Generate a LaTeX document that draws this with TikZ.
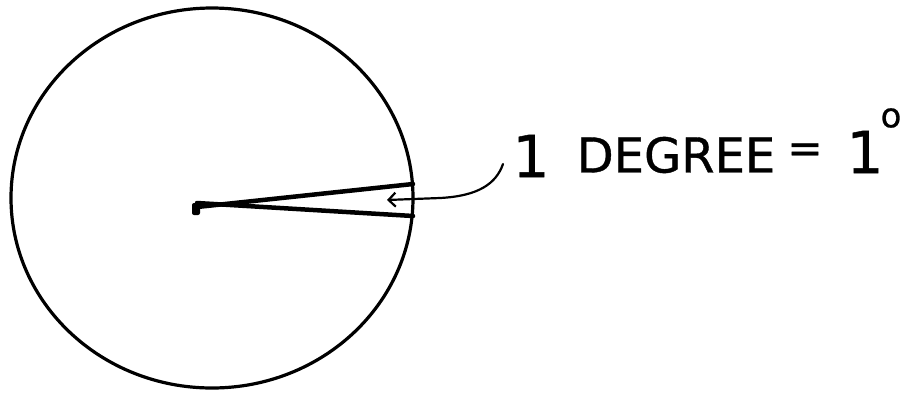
\documentclass[tikz,border=0pt]{standalone}
\usepackage{fontspec}
\setmainfont{DejaVu Sans}
\newfontfamily\hand[FakeBold=0.8]{DejaVu Sans}
\usetikzlibrary{arrows.meta}
\begin{document}
\begin{tikzpicture}[x=1pt,y=-1pt,
  ink/.style={draw=black, line cap=round, line join=round},
  lbl/.style={inner sep=0pt, text=black},
  big/.style={lbl, font=\hand\fontsize{58}{60}\selectfont},
  mid/.style={lbl, font=\hand\fontsize{48}{50}\selectfont},
  small/.style={lbl, font=\hand\fontsize{34}{36}\selectfont},
  eqs/.style={lbl, font=\hand\fontsize{42}{46}\selectfont}]
\useasboundingbox (0,0) rectangle (909,392);
% circle
\draw[ink, line width=3.2pt] (212,198) ellipse [x radius=201, y radius=190];
% wedge (1 degree)
\coordinate (ctr) at (197,207);
\coordinate (rimU) at (413,184);
\coordinate (rimL) at (413,216);
\draw[ink, line width=4.5pt] (ctr) -- (rimU);
\draw[ink, line width=4.5pt] ([yshift=4]ctr) -- (rimL);
\fill[black, rounded corners=2pt] (192,203) rectangle (200,215);
% labels
\node[big] (one) at (531,156) {1};
\node[mid] (deg) at (676,155) {DEGREE};
\node[eqs] (eq) at (805,153) {=};
\node[big] (onetwo) at (865,152) {1};
\node[small] (sup) at (891,118) {o};
% leader with arrow
\coordinate (lstart) at (503,164);
\coordinate (tipA) at (387,200);
\draw[ink, line width=2.2pt, -{Straight Barb[length=7pt,width=14pt,line width=2.2pt]}]
  (lstart) .. controls (496,184) and (478,196) .. (440,198) -- (tipA);
\end{tikzpicture}
\end{document}
